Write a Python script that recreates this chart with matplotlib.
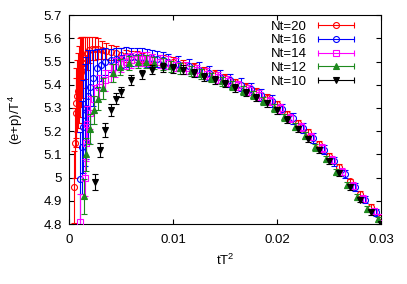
import matplotlib
matplotlib.use("Agg")
import matplotlib.pyplot as plt
from matplotlib.lines import Line2D
from matplotlib.legend_handler import HandlerLine2D, HandlerTuple

plt.rcParams['font.family'] = ['Liberation Sans', 'DejaVu Sans']
plt.rcParams['mathtext.default'] = 'regular'

# ---- data ----
x20 = [0.00045, 0.00055, 0.00064, 0.0007, 0.00075, 0.00084, 0.00093, 0.00103, 0.00112, 0.00122,
       0.00135, 0.0015, 0.0017, 0.0019, 0.0022, 0.0025, 0.0028, 0.0032, 0.0036, 0.004, 0.0045,
       0.005, 0.0055, 0.006, 0.0065, 0.007, 0.008, 0.009, 0.010, 0.011, 0.012, 0.013, 0.014,
       0.015, 0.016, 0.017, 0.018, 0.019, 0.020, 0.021, 0.022, 0.023, 0.024, 0.025, 0.026,
       0.027, 0.028, 0.029, 0.030]
y20 = [4.96, 5.15, 5.28, 5.32, 5.35, 5.375, 5.40, 5.43, 5.455, 5.475,
       5.495, 5.515, 5.535, 5.55, 5.555, 5.555, 5.555, 5.55, 5.545, 5.54, 5.535,
       5.53, 5.525, 5.52, 5.52, 5.515, 5.51, 5.505, 5.50, 5.485, 5.475, 5.46, 5.445,
       5.43, 5.41, 5.39, 5.37, 5.345, 5.315, 5.275, 5.235, 5.195, 5.145, 5.095, 5.045,
       4.985, 4.93, 4.875, 4.83]
e20 = [0.155, 0.15, 0.15, 0.15, 0.155, 0.16, 0.165, 0.17, 0.15, 0.13,
       0.11, 0.09, 0.07, 0.055, 0.05, 0.05, 0.045, 0.04, 0.035, 0.032, 0.03,
       0.028, 0.026, 0.025, 0.024, 0.023, 0.022, 0.021, 0.02, 0.02, 0.019, 0.018, 0.018,
       0.017, 0.016, 0.016, 0.015, 0.015, 0.014, 0.014, 0.013, 0.013, 0.012, 0.012, 0.012,
       0.011, 0.011, 0.011, 0.01]

x16 = [0.00103, 0.00122, 0.00132, 0.0015, 0.00165, 0.0018, 0.002, 0.0023, 0.0027, 0.0031,
       0.0035, 0.004, 0.0045, 0.005, 0.0055, 0.006, 0.0065, 0.007, 0.0075, 0.008, 0.0085,
       0.009, 0.0095, 0.0105, 0.0115, 0.0125, 0.0135, 0.0145, 0.0155, 0.0165, 0.0175,
       0.0185, 0.0195, 0.0205, 0.0215, 0.0225, 0.0235, 0.0245, 0.0255, 0.0265, 0.0275,
       0.0285, 0.0295]
y16 = [4.995, 5.13, 5.22, 5.27, 5.30, 5.35, 5.39, 5.43, 5.47, 5.485,
       5.50, 5.505, 5.51, 5.515, 5.52, 5.52, 5.52, 5.52, 5.515, 5.515, 5.51,
       5.505, 5.50, 5.49, 5.48, 5.465, 5.45, 5.435, 5.42, 5.40, 5.38,
       5.355, 5.33, 5.295, 5.255, 5.215, 5.17, 5.12, 5.07, 5.015, 4.96,
       4.905, 4.85]
e16 = [0.2, 0.2, 0.2, 0.22, 0.22, 0.2, 0.16, 0.12, 0.085, 0.07,
       0.06, 0.05, 0.048, 0.045, 0.043, 0.04, 0.039, 0.038, 0.037, 0.036, 0.035,
       0.034, 0.034, 0.033, 0.032, 0.031, 0.03, 0.029, 0.028, 0.027, 0.026,
       0.025, 0.024, 0.023, 0.022, 0.021, 0.02, 0.019, 0.018, 0.017, 0.016,
       0.015, 0.014]

x14 = [0.00103, 0.0015, 0.0016, 0.0017, 0.002, 0.0024, 0.0029, 0.0035, 0.004, 0.0044,
       0.005, 0.0055, 0.006, 0.0065, 0.007, 0.0075, 0.008, 0.0088, 0.0095, 0.0103, 0.0113,
       0.0123, 0.0133, 0.0143, 0.0153, 0.0163, 0.0173, 0.0183, 0.0193, 0.0203, 0.0213,
       0.0223, 0.0233, 0.0243, 0.0253, 0.0263, 0.0273, 0.0283, 0.0293, 0.030]
y14 = [4.81, 5.00, 5.15, 5.23, 5.28, 5.34, 5.39, 5.42, 5.45, 5.475,
       5.49, 5.50, 5.505, 5.51, 5.51, 5.51, 5.505, 5.50, 5.495, 5.487, 5.473,
       5.462, 5.447, 5.432, 5.416, 5.397, 5.377, 5.356, 5.33, 5.298, 5.258,
       5.218, 5.177, 5.127, 5.077, 5.025, 4.966, 4.91, 4.855, 4.83]
e14 = [0.12, 0.08, 0.08, 0.08, 0.07, 0.06, 0.05, 0.045, 0.04, 0.04,
       0.035, 0.033, 0.032, 0.031, 0.03, 0.03, 0.029, 0.028, 0.027, 0.027, 0.026,
       0.025, 0.024, 0.023, 0.022, 0.021, 0.02, 0.02, 0.019, 0.018, 0.018,
       0.017, 0.016, 0.016, 0.015, 0.015, 0.014, 0.014, 0.013, 0.013]

x12 = [0.0014, 0.0016, 0.002, 0.0024, 0.0028, 0.0033, 0.0042, 0.0049, 0.0058, 0.0066,
       0.0074, 0.0082, 0.009, 0.0098, 0.0107, 0.0117, 0.0127, 0.0137, 0.0147, 0.0157,
       0.0167, 0.0177, 0.0187, 0.0197, 0.0207, 0.0217, 0.0227, 0.0237, 0.0247, 0.0257,
       0.0267, 0.0277, 0.0287, 0.0297]
y12 = [4.92, 5.10, 5.21, 5.29, 5.34, 5.385, 5.45, 5.475, 5.495, 5.50,
       5.50, 5.495, 5.49, 5.48, 5.47, 5.46, 5.445, 5.43, 5.415, 5.395,
       5.375, 5.355, 5.33, 5.30, 5.26, 5.22, 5.18, 5.13, 5.08, 5.025,
       4.97, 4.915, 4.865, 4.82]
e12 = [0.075, 0.07, 0.065, 0.06, 0.05, 0.045, 0.04, 0.035, 0.03, 0.028,
       0.027, 0.026, 0.025, 0.024, 0.023, 0.022, 0.021, 0.02, 0.02, 0.019,
       0.018, 0.018, 0.017, 0.017, 0.016, 0.016, 0.015, 0.015, 0.014, 0.014,
       0.013, 0.013, 0.012, 0.012]

x10 = [0.0025, 0.003, 0.0035, 0.004, 0.0045, 0.005, 0.006, 0.007, 0.008, 0.009, 0.010,
       0.011, 0.012, 0.013, 0.014, 0.015, 0.016, 0.017, 0.018, 0.019, 0.020, 0.021,
       0.022, 0.023, 0.024, 0.025, 0.026, 0.027, 0.028, 0.029, 0.030]
y10 = [4.98, 5.12, 5.205, 5.29, 5.34, 5.37, 5.42, 5.445, 5.465, 5.475, 5.47,
       5.465, 5.45, 5.435, 5.42, 5.405, 5.385, 5.365, 5.345, 5.32, 5.29, 5.25,
       5.21, 5.165, 5.12, 5.07, 5.02, 4.96, 4.905, 4.85, 4.80]
e10 = [0.035, 0.03, 0.03, 0.025, 0.025, 0.022, 0.02, 0.02, 0.02, 0.02, 0.02,
       0.018, 0.018, 0.017, 0.017, 0.016, 0.016, 0.015, 0.015, 0.015, 0.014, 0.014,
       0.013, 0.013, 0.013, 0.012, 0.012, 0.012, 0.011, 0.011, 0.011]

series = [
    ("Nt=20", x20, y20, e20, '#ff0000', 'o', 'none'),
    ("Nt=16", x16, y16, e16, '#0000ff', 'o', 'none'),
    ("Nt=14", x14, y14, e14, '#ff00ff', 's', 'none'),
    ("Nt=12", x12, y12, e12, '#1e8a1e', '^', None),
    ("Nt=10", x10, y10, e10, '#000000', 'v', None),
]

xticks = [0, 0.01, 0.02, 0.03]
xtick_labels = ["0", "0.01", "0.02", "0.03"]
yticks = [4.8, 4.9, 5.0, 5.1, 5.2, 5.3, 5.4, 5.5, 5.6, 5.7]
ytick_labels = ["4.8", "4.9", "5", "5.1", "5.2", "5.3", "5.4", "5.5", "5.6", "5.7"]

FS = 9.5

# ---- figure ----
fig = plt.figure(figsize=(4.07, 2.84), dpi=100)
ax = fig.add_axes([0.1695, 0.211, 0.7665, 0.736])

handles = []
handler_map = {}
for i, (lab, xs, ys, es, col, mk, mfc) in enumerate(series):
    face = col if mfc is None else 'none'
    ax.errorbar(xs, ys, yerr=es, color=col, ecolor=col, elinewidth=0.8, capsize=2,
                capthick=0.8, fmt=mk, ms=4.3, mfc=face, mec=col, mew=0.8,
                linestyle='none', zorder=2 + i)
    cap = Line2D([], [], color=col, lw=0.8, marker='|', ms=5, mew=0.8)
    mark = Line2D([], [], color=col, linestyle='none', marker=mk, ms=4.3, mfc=face,
                  mec=col, mew=0.8)
    handler_map[cap] = HandlerLine2D(numpoints=2)
    handler_map[mark] = HandlerLine2D(numpoints=1)
    handles.append((cap, mark))

handler_map[tuple] = HandlerTuple(ndivide=1)
leg = ax.legend(handles, [s[0] for s in series], loc='upper right',
                bbox_to_anchor=(0.926, 0.975), frameon=False, markerfirst=False,
                fontsize=FS, handlelength=3.3, handletextpad=0.6, labelspacing=0.12,
                borderpad=0, borderaxespad=0, handler_map=handler_map)
leg.set_zorder(20)

ax.set_xlim(0, 0.03)
ax.set_ylim(4.8, 5.7)
ax.set_xticks(xticks)
ax.set_xticklabels(xtick_labels)
ax.set_yticks(yticks)
ax.set_yticklabels(ytick_labels)
ax.tick_params(direction='in', length=3.5, width=0.8, top=True, right=True,
               labelsize=FS, colors='black')
ax.tick_params(axis='x', pad=7)
ax.tick_params(axis='y', pad=5)
for sp in ax.spines.values():
    sp.set_linewidth(0.8)

ax.set_xlabel("tT$^2$", fontsize=FS, labelpad=5)
ax.set_ylabel("(e+p)/T$^4$", fontsize=FS, labelpad=13)

fig.savefig("out.png", dpi=100)
